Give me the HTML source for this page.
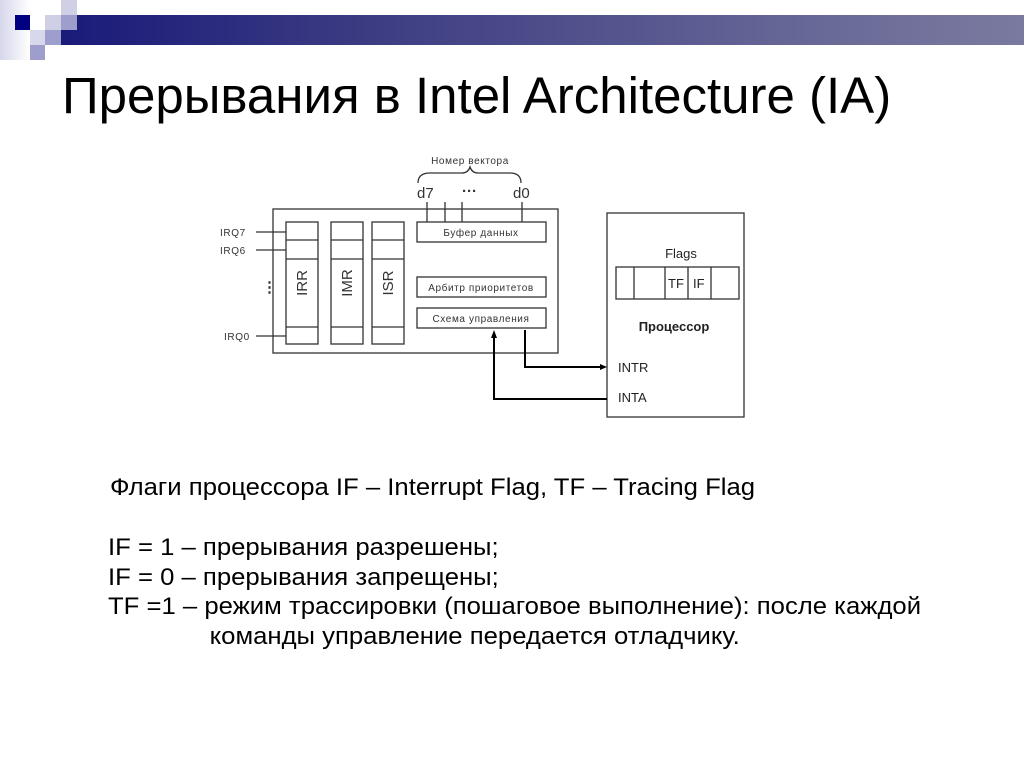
<!DOCTYPE html>
<html><head><meta charset="utf-8"><style>
body{margin:0;width:1024px;height:768px;background:#fff;overflow:hidden;position:relative;font-family:"Liberation Sans",sans-serif}
.t{position:absolute;white-space:nowrap;color:#000;transform-origin:0 0}
</style></head><body>
<div style="position:absolute;left:0;top:0;width:30px;height:60px;background:linear-gradient(90deg,#d6d6ec,#fff)"></div>
<div style="position:absolute;left:61px;top:15px;width:963px;height:30px;background:linear-gradient(90deg,#1a1a7a,#3a3a82 30%,#6a6a98 80%,#7a7aa0)"></div>
<div style="position:absolute;left:15px;top:15px;width:15px;height:15px;background:#000080"></div>
<div style="position:absolute;left:45px;top:15px;width:16px;height:15px;background:#cfcfe6"></div>
<div style="position:absolute;left:61px;top:0;width:16px;height:15px;background:#cfcfe6"></div>
<div style="position:absolute;left:61px;top:15px;width:16px;height:15px;background:#9e9ecc"></div>
<div style="position:absolute;left:30px;top:30px;width:15px;height:15px;background:#d8d8ec"></div>
<div style="position:absolute;left:45px;top:30px;width:16px;height:15px;background:#9e9ecc"></div>
<div style="position:absolute;left:30px;top:45px;width:15px;height:15px;background:#9e9ecc"></div>
<div class="t" style="left:62px;top:66px;font-size:51px">Прерывания в Intel Architecture (IA)</div>

<svg style="position:absolute;left:0;top:0" width="1024" height="768" font-family="Liberation Sans, sans-serif">
<g fill="none" stroke="#333" stroke-width="1.3">
<rect x="273" y="209" width="285" height="144"/>
<rect x="286" y="222" width="32" height="122"/><line x1="286" y1="240" x2="318" y2="240"/><line x1="286" y1="259" x2="318" y2="259"/><line x1="286" y1="327" x2="318" y2="327"/>
<rect x="331" y="222" width="32" height="122"/><line x1="331" y1="240" x2="363" y2="240"/><line x1="331" y1="259" x2="363" y2="259"/><line x1="331" y1="327" x2="363" y2="327"/>
<rect x="372" y="222" width="32" height="122"/><line x1="372" y1="240" x2="404" y2="240"/><line x1="372" y1="259" x2="404" y2="259"/><line x1="372" y1="327" x2="404" y2="327"/>
<rect x="417" y="222" width="129" height="20"/>
<rect x="417" y="277" width="129" height="20"/>
<rect x="417" y="308" width="129" height="20"/>
<line x1="256" y1="232" x2="286" y2="232"/><line x1="256" y1="250" x2="286" y2="250"/><line x1="256" y1="336" x2="286" y2="336"/>
<line x1="427" y1="202" x2="427" y2="222"/><line x1="445" y1="202" x2="445" y2="222"/><line x1="462" y1="202" x2="462" y2="222"/><line x1="522" y1="202" x2="522" y2="222"/>
<path d="M418 183 Q418 173 430 173 L462 173 Q468 173 470 167 Q472 173 478 173 L510 173 Q521 173 521 183"/>
<rect x="607" y="213" width="137" height="204"/>
<rect x="616" y="267" width="123" height="32"/>
<line x1="634" y1="267" x2="634" y2="299"/><line x1="665" y1="267" x2="665" y2="299"/><line x1="688" y1="267" x2="688" y2="299"/><line x1="711" y1="267" x2="711" y2="299"/>
</g>
<g fill="none" stroke="#000" stroke-width="2">
<polyline points="525,330 525,367 602,367"/>
<polyline points="607,399 494,399 494,336"/>
</g>
<polygon points="607,367 600,364 600,370" fill="#000"/>
<polygon points="494,330 491,338 497,338" fill="#000"/>
<g font-size="10" fill="#333" letter-spacing="0.6">
<text x="220" y="236">IRQ7</text><text x="220" y="254">IRQ6</text><text x="224" y="340">IRQ0</text>
<text x="470" y="164" text-anchor="middle">Номер вектора</text>
<text x="481" y="236" text-anchor="middle">Буфер данных</text>
<text x="481" y="291" text-anchor="middle">Арбитр приоритетов</text>
<text x="481" y="322" text-anchor="middle">Схема управления</text>
</g>
<g font-size="15" fill="#333">
<text x="417" y="198">d7</text><text x="513" y="198">d0</text>
<text x="462" y="196" font-weight="bold">···</text>
<text x="262" y="292" font-weight="bold">⋮</text>
<text transform="translate(307,283) rotate(-90)" text-anchor="middle">IRR</text>
<text transform="translate(352,283) rotate(-90)" text-anchor="middle">IMR</text>
<text transform="translate(393,283) rotate(-90)" text-anchor="middle">ISR</text>
</g>
<g font-size="13" fill="#222">
<text x="681" y="258" text-anchor="middle">Flags</text>
<text x="668" y="288">TF</text><text x="693" y="288">IF</text>
<text x="674" y="331" text-anchor="middle" font-weight="bold">Процессор</text>
<text x="618" y="372">INTR</text><text x="618" y="402">INTA</text>
</g>
</svg>
<div class="t" style="left:110px;top:474px;font-size:24px;transform:scaleX(1.07)">Флаги процессора IF – Interrupt Flag, TF – Tracing Flag</div>
<div class="t" style="left:108px;top:533px;font-size:24px;line-height:29.5px;transform:scaleX(1.07)">IF = 1 – прерывания разрешены;<br>IF = 0 – прерывания запрещены;<br>TF =1 – режим трассировки (пошаговое выполнение): после каждой<br><span style="padding-left:95px">команды управление передается отладчику.</span></div>
</body></html>
